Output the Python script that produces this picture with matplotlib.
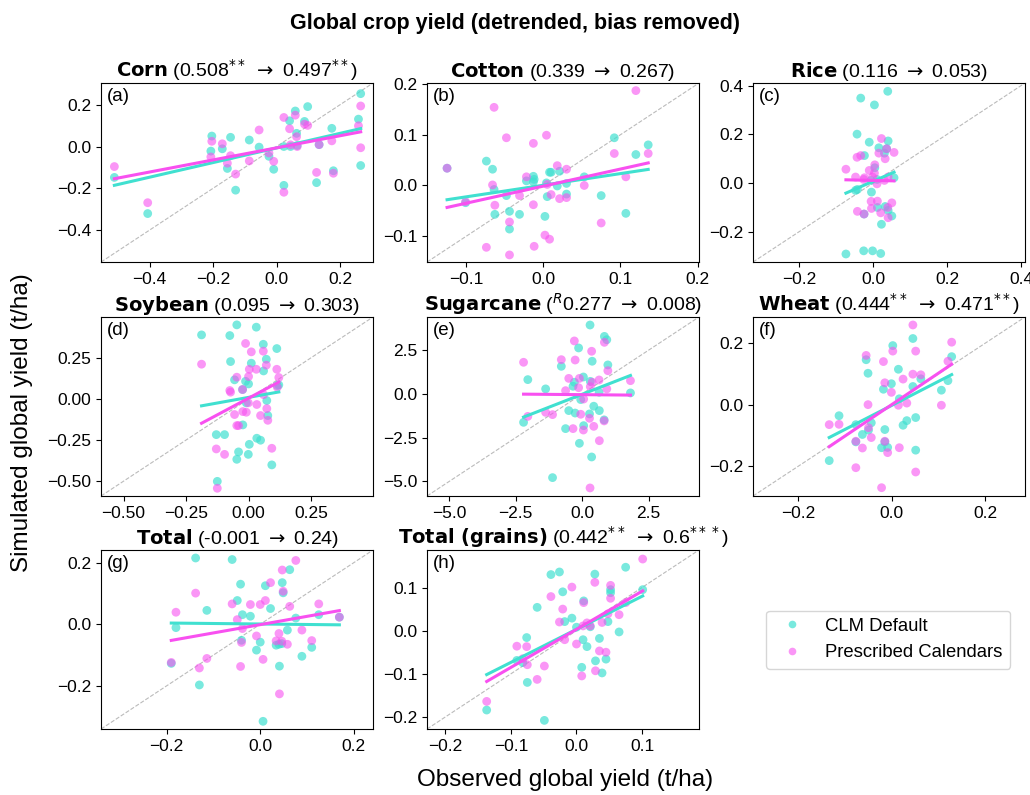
import numpy as np
import matplotlib
matplotlib.use("Agg")
import matplotlib.pyplot as plt

plt.rcParams['font.family'] = ['Liberation Sans', 'DejaVu Sans']

# observed (x) and simulated (CLM default / prescribed calendars) per crop
corn_obs = [-0.511, -0.406, -0.204, -0.207, -0.171, -0.155, -0.145, -0.129, -0.086, -0.055, -0.024, -0.009, 0.023, 0.023,
            0.041, 0.044, 0.059, 0.063, 0.065, 0.088, 0.098, 0.126, 0.134, 0.174, 0.179, 0.258, 0.265, 0.265]
corn_def = [-0.148, -0.321, 0.050, -0.022, -0.011, -0.105, 0.044, -0.209, 0.031, -0.003, -0.047, -0.109, -0.186, 0.0,
            0.123, 0.0, 0.170, 0.063, 0.005, 0.120, 0.191, -0.173, 0.009, 0.087, -0.116, 0.131, 0.253, -0.091]
corn_pres = [-0.096, -0.269, 0.025, -0.050, 0.013, -0.080, -0.044, -0.132, -0.069, 0.079, -0.031, -0.071, -0.219, 0.139,
             0.085, 0.008, 0.150, 0.047, 0.0, 0.107, 0.101, -0.124, 0.009, 0.027, -0.128, 0.099, 0.194, -0.006]

cotton_obs = [-0.125, -0.101, -0.074, -0.066, -0.064, -0.063, -0.048, -0.044, -0.044, -0.031, -0.022, -0.013, -0.013, -0.012,
              0.002, 0.004, 0.005, 0.008, 0.010, 0.018, 0.021, 0.030, 0.030, 0.053, 0.075, 0.092, 0.107, 0.120, 0.136]
cotton_def = [0.034, -0.034, 0.048, 0.032, -0.008, -0.057, -0.020, -0.051, -0.086, -0.057, 0.009, 0.018, 0.007, 0.012,
              -0.061, 0.005, -0.022, 0.026, 0.026, -0.001, 0.028, 0.004, -0.017, 0.017, -0.020, 0.094, -0.055, 0.061, 0.080]
cotton_pres = [0.034, -0.032, -0.122, 0.001, 0.154, -0.039, 0.094, -0.072, -0.137, -0.020, 0.017, 0.083, -0.038, -0.120,
               -0.098, 0.099, 0.002, -0.106, -0.018, 0.039, -0.026, 0.032, -0.024, 0.0, -0.074, 0.063, 0.017, 0.187, 0.063]

rice_obs = [-0.073, -0.047, -0.043, -0.042, -0.033, -0.025, -0.024, -0.023, -0.010, -0.005, -0.004, -0.001, 0.004, 0.005,
            0.011, 0.012, 0.016, 0.021, 0.023, 0.031, 0.033, 0.037, 0.040, 0.041, 0.041, 0.051, 0.057]
rice_def = [-0.291, -0.030, 0.201, -0.026, 0.349, -0.278, -0.127, 0.113, 0.168, 0.011, -0.037, -0.278, 0.321, 0.063,
            0.015, -0.100, 0.145, -0.289, -0.169, 0.123, -0.096, 0.141, 0.377, 0.173, -0.112, -0.135, 0.022]
rice_pres = [0.057, 0.025, 0.106, -0.116, 0.113, 0.015, -0.127, 0.022, 0.052, -0.075, -0.104, 0.025, 0.041, 0.075,
             -0.003, -0.074, 0.123, -0.122, 0.183, 0.011, 0.100, 0.141, -0.100, -0.142, 0.025, -0.081, 0.126]

soy_obs = [-0.188, -0.129, -0.125, -0.096, -0.075, -0.072, -0.056, -0.047, -0.047, -0.040, -0.024, -0.023, -0.012, -0.009,
           0.0, 0.003, -0.001, 0.011, 0.031, 0.033, 0.048, 0.059, 0.060, 0.071, 0.073, 0.077, 0.093, 0.113, 0.115, 0.121]
soy_def = [0.389, -0.217, -0.501, -0.217, 0.385, 0.227, 0.116, 0.450, -0.367, -0.322, 0.057, -0.158, 0.107, -0.024,
           0.091, -0.276, -0.337, 0.217, 0.436, -0.239, -0.251, 0.332, 0.170, 0.241, -0.010, -0.101, -0.401, 0.306, 0.081, 0.085]
soy_pres = [0.211, -0.304, -0.543, -0.337, 0.051, 0.041, -0.095, 0.132, -0.162, -0.162, 0.057, -0.077, 0.337, -0.081,
            0.136, 0.180, -0.024, 0.286, 0.180, -0.034, -0.101, 0.290, 0.026, 0.205, -0.059, -0.130, -0.300, 0.180, 0.071, 0.130]

sugar_obs = [-2.20, -2.04, -1.37, -1.11, -0.78, -0.62, -0.50, -0.34, -0.29, -0.26, -0.13, -0.10, -0.05, 0.05,
             0.06, 0.28, 0.30, 0.31, 0.36, 0.38, 0.44, 0.64, 0.65, 0.83, 0.84, 0.93, 0.97, 1.82]
sugar_def = [-1.62, 0.82, 0.29, -4.78, 1.58, -1.98, -0.95, 0.44, 0.67, -1.09, 2.63, -2.82, -0.32, 0.97,
             -1.81, -1.14, 3.94, 0.72, -3.60, 1.87, -0.70, 0.10, -0.95, -1.48, 3.29, 3.10, 1.66, 0.06]
sugar_pres = [1.81, -1.28, -1.05, -1.18, 1.96, 0.19, 0.89, -1.98, 3.03, 1.94, 0.36, 0.89, -1.16, -2.06,
              -0.29, -1.39, -5.37, 0.42, 2.44, 0.67, -1.85, 0.80, -2.67, -1.54, 2.95, 0.29, 1.33, 0.76]

wheat_obs = [-0.134, -0.113, -0.077, -0.077, -0.063, -0.055, -0.051, -0.050, -0.044, -0.022, -0.018, -0.015, -0.015, -0.009,
             -0.001, 0.002, 0.014, 0.016, 0.024, 0.032, 0.045, 0.045, 0.051, 0.051, 0.062, 0.106, 0.120, 0.128]
wheat_def = [-0.182, -0.036, -0.065, -0.121, -0.097, 0.146, 0.102, -0.083, -0.059, -0.140, 0.050, -0.081, -0.121, -0.139,
             0.068, 0.192, 0.115, 0.019, -0.067, -0.052, 0.215, 0.059, -0.042, -0.148, 0.084, 0.047, 0.078, 0.156]
wheat_pres = [-0.065, -0.064, -0.119, -0.205, -0.141, 0.160, 0.0, -0.075, -0.107, -0.270, 0.140, 0.071, -0.119, -0.156,
              0.040, 0.174, -0.002, -0.140, 0.083, 0.005, 0.259, 0.099, 0.174, -0.219, 0.097, -0.002, 0.141, 0.203]

total_obs = [-0.190, -0.180, -0.138, -0.130, -0.114, -0.060, -0.049, -0.042, -0.040, -0.038, -0.021, -0.008, 0.0, 0.006, 0.011,
             0.022, 0.034, 0.040, 0.041, 0.047, 0.049, 0.046, 0.058, 0.063, 0.076, 0.089, 0.110, 0.125, 0.169]
total_def = [-0.127, -0.011, 0.215, -0.197, 0.045, 0.210, 0.077, 0.130, -0.052, 0.031, 0.026, -0.084, -0.058, -0.315, 0.125,
             0.051, -0.068, -0.065, -0.136, 0.135, 0.102, -0.063, -0.019, 0.177, 0.020, -0.104, -0.075, 0.031, 0.023]
total_pres = [-0.124, 0.039, 0.101, -0.142, -0.111, 0.066, 0.015, -0.137, -0.059, -0.014, 0.064, -0.038, 0.064, -0.114, 0.077,
              0.135, -0.054, -0.030, -0.226, 0.176, 0.107, -0.055, -0.065, 0.058, 0.207, -0.019, -0.053, 0.066, 0.023]

grains_obs = [-0.137, -0.091, -0.082, -0.076, -0.075, -0.060, -0.049, -0.039, -0.026, -0.021, -0.018, -0.007, 0.0, 0.008, 0.010,
              0.011, 0.016, 0.021, 0.028, 0.029, 0.039, 0.035, 0.045, 0.048, 0.052, 0.052, 0.065, 0.075, 0.101]
grains_def = [-0.184, -0.069, -0.074, -0.016, -0.120, 0.054, -0.208, 0.130, 0.136, 0.090, 0.021, 0.029, 0.008, -0.085, -0.021,
              0.069, -0.037, 0.009, 0.131, -0.070, -0.098, -0.018, -0.066, 0.021, 0.095, 0.088, -0.003, 0.147, 0.095]
grains_pres = [-0.164, -0.036, -0.065, -0.037, -0.079, -0.113, -0.082, 0.079, 0.020, 0.050, -0.021, 0.101, -0.031, -0.105, 0.011,
               0.065, 0.018, 0.011, 0.112, -0.093, 0.019, -0.047, -0.050, 0.039, 0.105, 0.075, 0.037, 0.065, 0.166]

crops = ["Corn", "Cotton", "Rice", "Soybean", "Sugarcane", "Wheat", "Total", "Total (grains)"]
arrow = r"$\rightarrow$"
stats = ["(0.508$^{**}$ " + arrow + " 0.497$^{**}$)", "(0.339 " + arrow + " 0.267)", "(0.116 " + arrow + " 0.053)",
         "(0.095 " + arrow + " 0.303)", "($^{R}$0.277 " + arrow + " 0.008)", "(0.444$^{**}$ " + arrow + " 0.471$^{**}$)",
         "(-0.001 " + arrow + " 0.24)", "(0.442$^{**}$ " + arrow + " 0.6$^{***}$)"]
panel_letters = ["(a)", "(b)", "(c)", "(d)", "(e)", "(f)", "(g)", "(h)"]
obs = [corn_obs, cotton_obs, rice_obs, soy_obs, sugar_obs, wheat_obs, total_obs, grains_obs]
sim_def = [corn_def, cotton_def, rice_def, soy_def, sugar_def, wheat_def, total_def, grains_def]
sim_pres = [corn_pres, cotton_pres, rice_pres, soy_pres, sugar_pres, wheat_pres, total_pres, grains_pres]
lims = [(-0.553, 0.304), (-0.151, 0.202), (-0.324, 0.411), (-0.59, 0.498),
        (-5.83, 4.40), (-0.297, 0.285), (-0.340, 0.241), (-0.228, 0.187)]

col_def = "#40E0D0"
col_pres = "#F850F0"

fig = plt.figure(figsize=(10.3, 7.95), dpi=100)
lefts = [0.0981, 0.4146, 0.7311]
bottoms = [0.6704, 0.3761, 0.0830]
w, h = 0.2641, 0.2252

for i in range(8):
    r, c = divmod(i, 3)
    ax = fig.add_axes([lefts[c], bottoms[r], w, h])
    x = np.array(obs[i])
    lo, hi = lims[i]
    ax.plot([lo, hi], [lo, hi], ls="--", color="#bbbbbb", lw=0.8, zorder=1)
    ax.scatter(x, sim_def[i], s=40, color=col_def, alpha=0.7, edgecolors="none", zorder=2)
    ax.scatter(x, sim_pres[i], s=40, color=col_pres, alpha=0.6, edgecolors="none", zorder=2)
    xx = np.array([x.min(), x.max()])
    for ys, col in [(sim_def[i], col_def), (sim_pres[i], col_pres)]:
        m, b = np.polyfit(x, ys, 1)
        ax.plot(xx, m * xx + b, color=col, lw=2.2, zorder=3)
    ax.set_xlim(lo, hi)
    ax.set_ylim(lo, hi)
    ax.tick_params(labelsize=12.5)
    ax.text(0.02, 0.97, panel_letters[i], transform=ax.transAxes, fontsize=13.5, va="top", ha="left")
    ax.set_title(r"$\bf{" + crops[i].replace(" ", r"\ ") + "}$ " + stats[i], fontsize=14, pad=4)

fig.text(0.5, 0.971, "Global crop yield (detrended, bias removed)", ha="center", va="center",
         fontsize=15.5, fontweight="bold")
fig.text(0.549, 0.019, "Observed global yield (t/ha)", ha="center", va="center", fontsize=17.5)
fig.text(0.021, 0.468, "Simulated global yield (t/ha)", ha="center", va="center", rotation=90, fontsize=17.5)

handles = [plt.Line2D([], [], marker="o", ls="", color=col_def, alpha=0.7, markersize=5.5, markeredgewidth=0),
           plt.Line2D([], [], marker="o", ls="", color=col_pres, alpha=0.6, markersize=5.5, markeredgewidth=0)]
fig.legend(handles, ["CLM Default", "Prescribed Calendars"], loc="upper left",
           bbox_to_anchor=(0.744, 0.232), borderaxespad=0, fontsize=13.3)

fig.savefig("out.png", dpi=100)
